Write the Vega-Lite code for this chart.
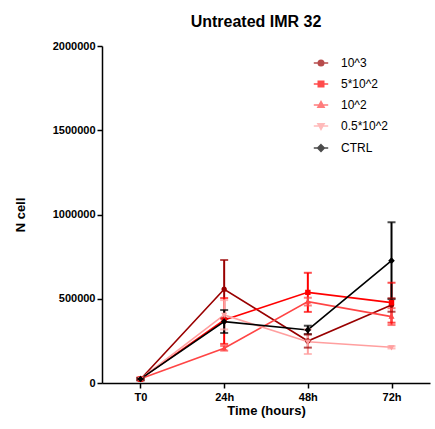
{
  "$schema": "https://vega.github.io/schema/vega-lite/v6.json",
  "width": 328,
  "height": 337,
  "autosize": {"type": "none"},
  "padding": {"left": 102, "top": 46, "right": 5, "bottom": 46},
  "background": "white",
  "title": {"text": "Untreated IMR 32", "font": "Liberation Sans", "fontSize": 16, "fontWeight": "bold", "color": "black", "anchor": "middle", "offset": 10, "dx": -10},
  "config": {
    "view": {"stroke": null},
    "font": "Liberation Sans",
    "axis": {"domainColor": "black", "domainWidth": 1.5, "tickColor": "black", "tickWidth": 1.5, "tickSize": 5, "grid": false, "labelFont": "Liberation Sans", "labelFontWeight": "bold", "labelFontSize": 11, "labelColor": "black", "titleFont": "Liberation Sans", "titleFontWeight": "bold", "titleFontSize": 13, "titleColor": "black"}
  },
  "data": {"values": [
    {"group": "10^3", "time": "T0", "mean": 22000, "lo": 15000, "hi": 29000},
    {"group": "10^3", "time": "24h", "mean": 556000, "lo": 382000, "hi": 730000},
    {"group": "10^3", "time": "48h", "mean": 249000, "lo": 210000, "hi": 288000},
    {"group": "10^3", "time": "72h", "mean": 463000, "lo": 423000, "hi": 503000},
    {"group": "5*10^2", "time": "T0", "mean": 24000, "lo": 17000, "hi": 31000},
    {"group": "5*10^2", "time": "24h", "mean": 374000, "lo": 232000, "hi": 504000},
    {"group": "5*10^2", "time": "48h", "mean": 538000, "lo": 422000, "hi": 654000},
    {"group": "5*10^2", "time": "72h", "mean": 477000, "lo": 358000, "hi": 595000},
    {"group": "10^2", "time": "T0", "mean": 25000, "lo": 18000, "hi": 32000},
    {"group": "10^2", "time": "24h", "mean": 206000, "lo": 192000, "hi": 220000},
    {"group": "10^2", "time": "48h", "mean": 483000, "lo": 460000, "hi": 506000},
    {"group": "10^2", "time": "72h", "mean": 394000, "lo": 344000, "hi": 444000},
    {"group": "0.5*10^2", "time": "T0", "mean": 25000, "lo": 18000, "hi": 32000},
    {"group": "0.5*10^2", "time": "24h", "mean": 404000, "lo": 318000, "hi": 492000},
    {"group": "0.5*10^2", "time": "48h", "mean": 245000, "lo": 172000, "hi": 318000},
    {"group": "0.5*10^2", "time": "72h", "mean": 212000, "lo": 205000, "hi": 219000},
    {"group": "CTRL", "time": "T0", "mean": 24000, "lo": 18000, "hi": 30000},
    {"group": "CTRL", "time": "24h", "mean": 364000, "lo": 297000, "hi": 433000},
    {"group": "CTRL", "time": "48h", "mean": 315000, "lo": 290000, "hi": 340000},
    {"group": "CTRL", "time": "72h", "mean": 726000, "lo": 498000, "hi": 954000}
  ]},
  "encoding": {
    "x": {"field": "time", "type": "ordinal", "sort": ["T0", "24h", "48h", "72h"], "scale": {"type": "point", "padding": 0.46}, "axis": {"title": "Time (hours)", "labelAngle": 0, "labelPadding": 3, "titlePadding": 2}},
    "color": {"field": "group", "type": "nominal", "scale": {"domain": ["10^3", "5*10^2", "10^2", "0.5*10^2", "CTRL"], "range": ["#990000", "#ff0000", "#ff4545", "#ff9f9f", "#000000"]}}
  },
  "layer": [
    {
      "mark": {"type": "line", "strokeWidth": 1.6},
      "encoding": {
        "y": {"field": "mean", "type": "quantitative", "scale": {"domain": [0, 2000000]}, "axis": {"title": "N cell", "values": [0, 500000, 1000000, 1500000, 2000000], "format": "d", "labelPadding": 2, "titlePadding": 25}},
        "detail": {"field": "group"}
      }
    },
    {
      "mark": {"type": "rule", "strokeWidth": 2},
      "encoding": {
        "y": {"field": "lo", "type": "quantitative"},
        "y2": {"field": "hi"}
      }
    },
    {
      "mark": {"type": "tick", "orient": "horizontal", "size": 8, "thickness": 2},
      "encoding": {"y": {"field": "lo", "type": "quantitative"}}
    },
    {
      "mark": {"type": "tick", "orient": "horizontal", "size": 8, "thickness": 2},
      "encoding": {"y": {"field": "hi", "type": "quantitative"}}
    },
    {
      "mark": {"type": "point", "filled": true, "opacity": 1, "size": 144, "strokeWidth": 0},
      "encoding": {
        "y": {"field": "mean", "type": "quantitative"},
        "shape": {"field": "group", "type": "nominal", "scale": {"domain": ["10^3", "5*10^2", "10^2", "0.5*10^2", "CTRL"], "range": [
          "M-1.2,0H1.2M0.45,0A0.45,0.45 0 1,1 -0.45,0A0.45,0.45 0 1,1 0.45,0Z",
          "M-1.2,0H1.2M-0.45,-0.45H0.45V0.45H-0.45Z",
          "M-1.2,0H1.2M0,-0.55L0.5,0.35H-0.5Z",
          "M-1.2,0H1.2M0,0.55L0.5,-0.35H-0.5Z",
          "M-1.2,0H1.2M0,-0.55L0.55,0L0,0.55L-0.55,0Z"
        ]}, "legend": {"title": null, "orient": "none", "legendX": 212, "legendY": 10, "symbolSize": 144, "symbolStrokeWidth": 1.6, "symbolOpacity": 1, "labelFont": "Liberation Sans", "labelFontSize": 12, "labelColor": "black", "labelOffset": 13, "rowPadding": 8,
          "encode": {"symbols": {"update": {"stroke": {"scale": "color", "field": "value"}, "fill": {"scale": "color", "field": "value"}, "strokeWidth": {"value": 1.6}, "opacity": {"value": 1}, "fillOpacity": {"value": 1}, "strokeOpacity": {"value": 1}}}}}}
      }
    }
  ]
}
